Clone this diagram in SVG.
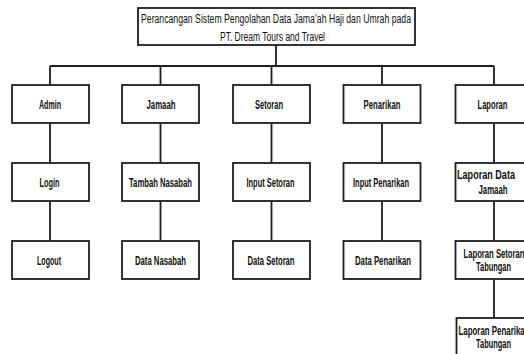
<svg xmlns="http://www.w3.org/2000/svg" width="524" height="354" viewBox="0 0 524 354">
<style>
.box{fill:#fff;stroke:#1e1e1e;stroke-width:1.8}
.ln{fill:none;stroke:#1e1e1e;stroke-width:1.8}
text{font-family:"Liberation Sans",Arial,sans-serif;font-size:12px;fill:#111;text-anchor:middle}
.b{font-weight:bold;font-size:12.5px}
</style>
<rect width="524" height="354" fill="#fff"/>
<g id="connectors">
<path class="ln" d="M276 45V66M50 66H494M50 66V85M160.5 66V85M271.5 66V85M382 66V85M494 66V85"/>
<path class="ln" d="M50 123V163M50 201V241M160.5 123V163M160.5 201V241M271.5 123V163M271.5 201V241M382 123V163M382 201V241M494 123V163M494 201V241M494 279V318"/>
</g>
<g id="root"><rect class="box" x="138" y="8" width="277" height="37"/><text x="276" y="22.5" textLength="270" lengthAdjust="spacingAndGlyphs">Perancangan Sistem Pengolahan Data Jama’ah Haji dan Umrah pada</text><text x="272.5" y="41" textLength="105" lengthAdjust="spacingAndGlyphs">PT. Dream Tours and Travel</text></g>
<g id="admin"><rect class="box" x="12" y="85" width="77" height="38"/><text class="b" x="50" y="109" textLength="22" lengthAdjust="spacingAndGlyphs">Admin</text></g>
<g id="jamaah"><rect class="box" x="122" y="85" width="77" height="38"/><text class="b" x="161" y="109" textLength="29" lengthAdjust="spacingAndGlyphs">Jamaah</text></g>
<g id="setoran"><rect class="box" x="233" y="85" width="77" height="38"/><text class="b" x="269" y="109" textLength="28" lengthAdjust="spacingAndGlyphs">Setoran</text></g>
<g id="penarikan"><rect class="box" x="343.5" y="85" width="77" height="38"/><text class="b" x="382" y="109" textLength="37" lengthAdjust="spacingAndGlyphs">Penarikan</text></g>
<g id="laporan"><rect class="box" x="455.5" y="85" width="77" height="38"/><text class="b" x="492.5" y="109" textLength="30" lengthAdjust="spacingAndGlyphs">Laporan</text></g>
<g id="login"><rect class="box" x="12" y="163" width="77" height="38"/><text class="b" x="49.5" y="186.5" textLength="20" lengthAdjust="spacingAndGlyphs">Login</text></g>
<g id="tambah-nasabah"><rect class="box" x="122" y="163" width="77" height="38"/><text class="b" x="160.5" y="186.5" textLength="63" lengthAdjust="spacingAndGlyphs">Tambah Nasabah</text></g>
<g id="input-setoran"><rect class="box" x="233" y="163" width="77" height="38"/><text class="b" x="270.5" y="186.5" textLength="48" lengthAdjust="spacingAndGlyphs">Input Setoran</text></g>
<g id="input-penarikan"><rect class="box" x="343.5" y="163" width="77" height="38"/><text class="b" x="381" y="186.5" textLength="56" lengthAdjust="spacingAndGlyphs">Input Penarikan</text></g>
<g id="laporan-data-jamaah"><rect class="box" x="455.5" y="163" width="77" height="38"/><text class="b" x="486" y="179" textLength="58" lengthAdjust="spacingAndGlyphs">Laporan Data</text><text class="b" x="493" y="193.5" textLength="29" lengthAdjust="spacingAndGlyphs">Jamaah</text></g>
<g id="logout"><rect class="box" x="12" y="241" width="77" height="38"/><text class="b" x="49" y="264.5" textLength="24" lengthAdjust="spacingAndGlyphs">Logout</text></g>
<g id="data-nasabah"><rect class="box" x="122" y="241" width="77" height="38"/><text class="b" x="160.5" y="264.5" textLength="51" lengthAdjust="spacingAndGlyphs">Data Nasabah</text></g>
<g id="data-setoran"><rect class="box" x="233" y="241" width="77" height="38"/><text class="b" x="271" y="264.5" textLength="47" lengthAdjust="spacingAndGlyphs">Data Setoran</text></g>
<g id="data-penarikan"><rect class="box" x="343.5" y="241" width="77" height="38"/><text class="b" x="383" y="264.5" textLength="56" lengthAdjust="spacingAndGlyphs">Data Penarikan</text></g>
<g id="laporan-setoran-tabungan"><rect class="box" x="455.5" y="241" width="77" height="38"/><text class="b" x="494" y="257.5" textLength="61" lengthAdjust="spacingAndGlyphs">Laporan Setoran</text><text class="b" x="493.5" y="271" textLength="35" lengthAdjust="spacingAndGlyphs">Tabungan</text></g>
<g id="laporan-penarikan-tabungan"><rect class="box" x="456.5" y="318" width="77" height="40"/><text class="b" x="494" y="334.5" textLength="71" lengthAdjust="spacingAndGlyphs">Laporan Penarikan</text><text class="b" x="493.5" y="348" textLength="35" lengthAdjust="spacingAndGlyphs">Tabungan</text></g>
</svg>
